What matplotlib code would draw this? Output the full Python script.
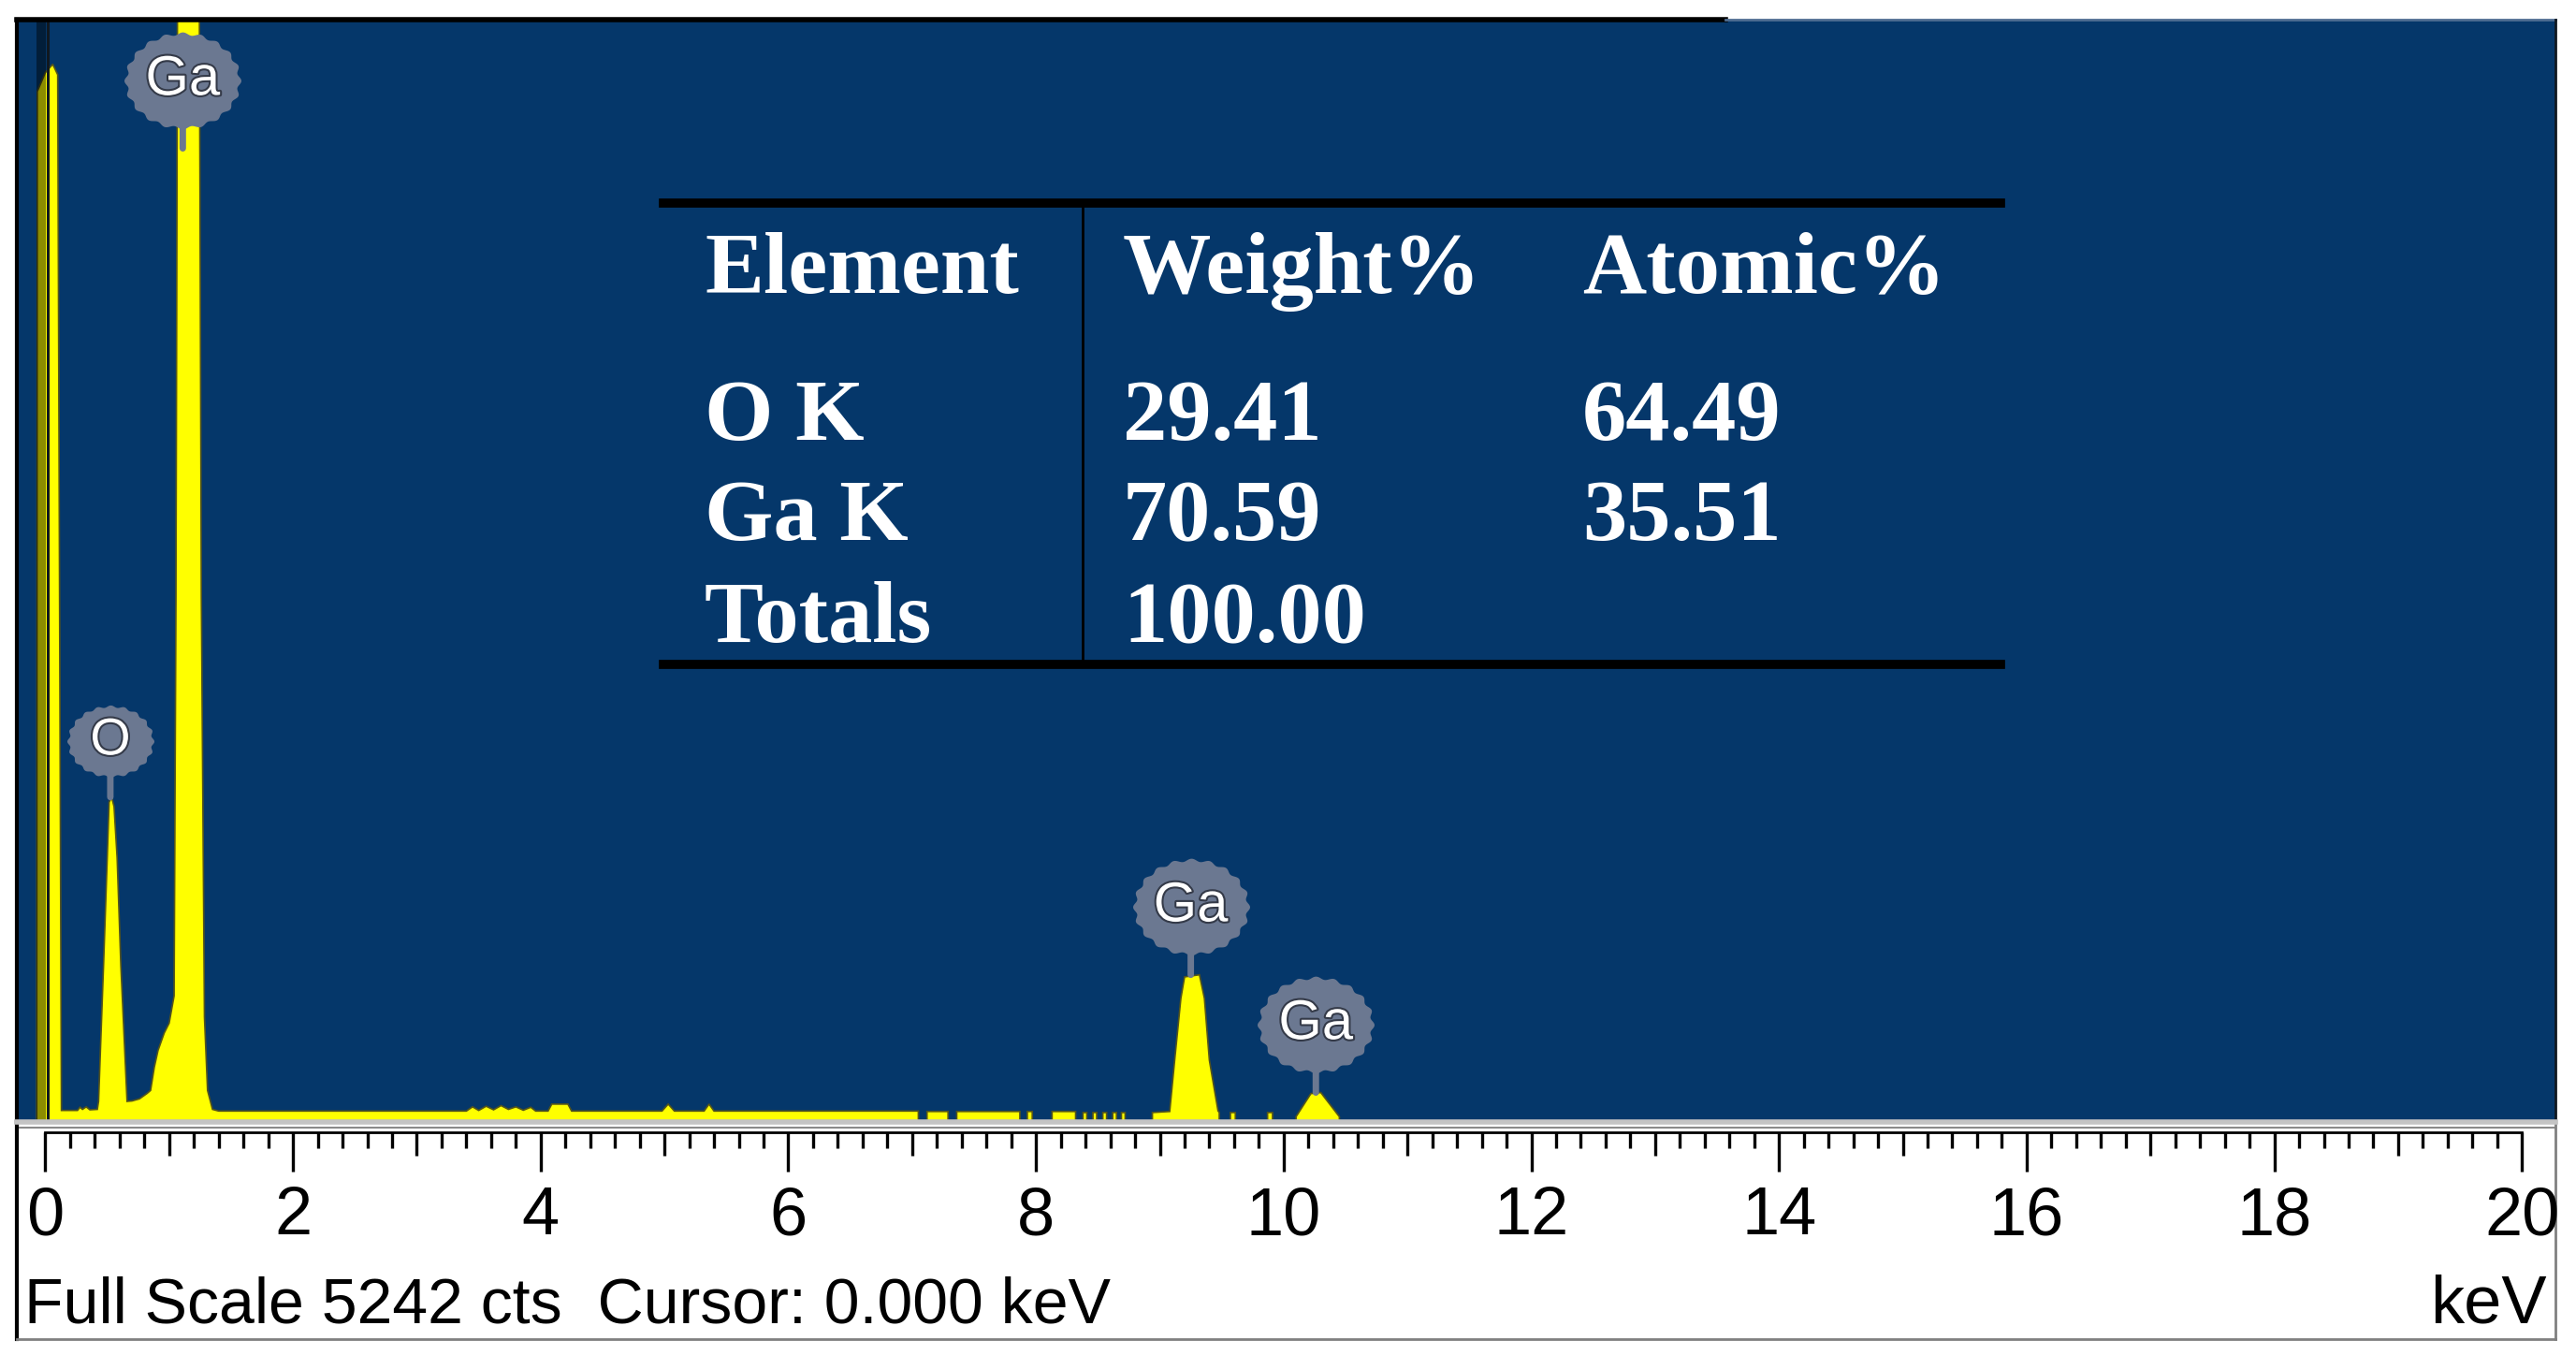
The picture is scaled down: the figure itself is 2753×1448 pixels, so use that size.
#### EDS spectrum of Ga2O3 - recreated screenshot ####

import numpy as np
import matplotlib
matplotlib.use("Agg")
import matplotlib.pyplot as plt
import matplotlib.patheffects as pe
from matplotlib.path import Path

# full scale of the spectrum window
full_scale = 5242  # cts

# spectrum outline (keV, cts)
energy_kev = [-0.23, -0.07, -0.065, 0.0, 0.06, 0.10, 0.115, 0.13, 0.26, 0.28, 0.30, 0.33, 0.36, 0.42,
              0.43, 0.47, 0.50, 0.515, 0.535, 0.555, 0.58, 0.61, 0.66, 0.70, 0.76, 0.82, 0.85, 0.88,
              0.91, 0.96, 1.00, 1.04, 1.055, 1.07, 1.24, 1.26, 1.285, 1.31, 1.35, 1.40,
              3.40, 3.45, 3.50, 3.56, 3.62, 3.68, 3.74, 3.80, 3.86, 3.92, 3.96,
              4.06, 4.09, 4.22, 4.25, 4.98, 5.03, 5.08, 5.32, 5.36, 5.40,
              7.05, 7.05, 7.12, 7.12, 7.29, 7.29, 7.36, 7.36, 7.87, 7.87,
              7.93, 7.93, 7.97, 7.97, 8.13, 8.13, 8.32, 8.32,
              8.38, 8.38, 8.41, 8.41, 8.46, 8.46, 8.49, 8.49, 8.54, 8.54, 8.57, 8.57,
              8.62, 8.62, 8.65, 8.65, 8.69, 8.69, 8.72, 8.72,
              8.94, 8.94, 9.08, 9.12, 9.17, 9.20, 9.32, 9.36, 9.40, 9.47, 9.48, 9.48,
              9.57, 9.57, 9.61, 9.61, 9.87, 9.87, 9.91, 9.91,
              10.10, 10.10, 10.22, 10.30, 10.45, 10.45, 20.3]
counts = [0, 0, 4900, 4990, 5030, 4980, 2500, 55, 55, 70, 60, 72, 58, 60,
          98, 743, 1255, 1520, 1545, 1500, 1255, 743, 98, 100, 110, 135, 150, 260,
          340, 423, 470, 600, 2500, 6000, 6000, 2500, 500, 150, 60, 52,
          52, 72, 55, 75, 58, 78, 60, 72, 56, 70, 52,
          52, 85, 85, 52, 52, 85, 52, 52, 85, 52,
          52, 0, 0, 50, 50, 0, 0, 50, 50, 0,
          0, 50, 50, 0, 0, 50, 50, 0,
          0, 45, 45, 0, 0, 45, 45, 0, 0, 45, 45, 0,
          0, 45, 45, 0, 0, 45, 45, 0,
          0, 45, 50, 294, 588, 690, 700, 588, 294, 53, 45, 0,
          0, 45, 45, 0, 0, 45, 45, 0,
          0, 25, 135, 140, 25, 0, 0]

# peak labels: element, keV, cts at the tip of the stem
label_names = ["Ga", "O", "Ga", "Ga"]
label_kev = [1.11, 0.525, 9.25, 10.26]
label_cts = [4630, 1545, 700, 140]

cursor_kev = 0.02

# quantification table
table_header = ["Element", "Weight%", "Atomic%"]
table_elements = ["O K", "Ga K", "Totals"]
table_weight = ["29.41", "70.59", "100.00"]
table_atomic = ["64.49", "35.51", ""]

major_ticks = np.arange(0, 21, 2)
mid_ticks = np.arange(1, 20, 2)
minor_ticks = [t for t in np.round(np.arange(0, 20.01, 0.2), 1) if abs(t - round(t)) > 1e-6]

# colours
blue_bg = "#05376a"
yellow = "#ffff00"
bubble_col = "#6b7891"

sans_narrow = ["Liberation Sans Narrow", "Liberation Sans", "DejaVu Sans"]
sans = ["Liberation Sans", "DejaVu Sans"]
serif = ["Liberation Serif", "DejaVu Serif"]

W, H = 2753, 1448
fig = plt.figure(figsize=(W / 100, H / 100), dpi=100)
fig.patch.set_facecolor("white")

# spectrum window
ax = fig.add_axes([18 / W, 1 - 1199 / H, 2713 / W, 1178 / H])
ax.set_facecolor(blue_bg)
ax.set_xlim(-0.23, 20.27)
ax.set_ylim(0, full_scale)
ax.set_xticks([])
ax.set_yticks([])
for side in ["top", "right"]:
    ax.spines[side].set_visible(False)
ax.spines["left"].set_color("black")
ax.spines["left"].set_linewidth(3)
ax.spines["bottom"].set_color("black")
ax.spines["bottom"].set_linewidth(3)

ax.fill(energy_kev, counts, facecolor=yellow, edgecolor="#55551a", lw=1.2, zorder=2)

# cursor
ax.axvspan(-0.07, 0.008, color="black", alpha=0.45, lw=0, zorder=3)
ax.axvline(cursor_kev, color="#111820", lw=2.2, zorder=3)

# window border: dark on the left part of the top, lighter on the right
ax.plot([0, 0.673], [1, 1], transform=ax.transAxes, color="black", lw=4, clip_on=False, zorder=5)
ax.plot([0.673, 1], [1, 1], transform=ax.transAxes, color="#4f6d92", lw=2, clip_on=False, zorder=5)
ax.plot([1, 1], [0, 1], transform=ax.transAxes, color="#101820", lw=2, clip_on=False, zorder=5)

# peak label bubbles
theta = np.linspace(0, 2 * np.pi, 361)
r = 1 + 0.03 * np.cos(20 * theta)
bubble = Path(np.column_stack([r * np.cos(theta), 0.83 * r * np.sin(theta)]), closed=True)

for name, xk, yc in zip(label_names, label_kev, label_cts):
    big = name != "O"
    width_pt = 90 if big else 67
    off = width_pt * 0.83 / 2 + 15
    ax.annotate("", xy=(xk, yc), xytext=(0, off), textcoords="offset points",
                arrowprops=dict(arrowstyle="-", color=bubble_col, lw=5, shrinkA=0, shrinkB=0),
                zorder=6)
    ax.annotate(" ", xy=(xk, yc), xytext=(0, off), textcoords="offset points", zorder=6)
    ax.scatter([xk], [yc], s=width_pt ** 2, marker=bubble, color=bubble_col, lw=0, zorder=7,
               transform=matplotlib.transforms.offset_copy(ax.transData, fig=fig, x=0, y=off,
                                                           units="points"))
    ax.annotate(name, xy=(xk, yc), xytext=(0, off), textcoords="offset points",
                ha="center", va="center", fontsize=43 if big else 40, family=sans,
                color="white", zorder=8,
                path_effects=[pe.withStroke(linewidth=3, foreground="#343a48")])

# quantification table
tx = ax.transAxes
ax.plot([0.2547, 0.7814], [0.8336, 0.8336], transform=tx, color="black", lw=7, zorder=4)
ax.plot([0.2547, 0.7814], [0.4151, 0.4151], transform=tx, color="black", lw=7, zorder=4)
ax.plot([0.4198, 0.4198], [0.8294, 0.4194], transform=tx, color="black", lw=2, zorder=4)

col_x = [0.2709, 0.4357, 0.6167]
row_y = [0.6188, 0.5280, 0.4355]
for cx, head in zip(col_x, table_header):
    ax.text(cx, 0.7521, head, transform=tx, fontsize=68, family=serif, weight="bold",
            color="white", va="baseline", ha="left", zorder=5)
for ry, el, wt, at in zip(row_y, table_elements, table_weight, table_atomic):
    for cx, s in zip(col_x, [el, wt, at]):
        ax.text(cx, ry, s, transform=tx, fontsize=68, family=serif, weight="bold",
                color="white", va="baseline", ha="left", zorder=5)

# energy scale below the window
ax2 = fig.add_axes([18 / W, 1 - 1431 / H, 2713 / W, 232 / H])
ax2.set_facecolor("white")
ax2.set_xlim(-0.23, 20.27)
ax2.set_ylim(0, 1)
ax2.set_xticks([])
ax2.set_yticks([])
ax2.spines["left"].set_color("black")
ax2.spines["left"].set_linewidth(3)
ax2.spines["top"].set_color("#c4c4c4")
ax2.spines["top"].set_linewidth(4)
for side in ["bottom", "right"]:
    ax2.spines[side].set_color("#808080")
    ax2.spines[side].set_linewidth(2)
ax2.plot([-0.23, 20.27], [0.972, 0.972], color="#8a8a8a", lw=1.5, clip_on=False)

ax2.plot([0, 20], [0.953, 0.953], color="black", lw=2)
ax2.vlines(major_ticks, 0.772, 0.953, color="black", lw=2.4)
ax2.vlines(mid_ticks, 0.845, 0.953, color="black", lw=2.4)
ax2.vlines(minor_ticks, 0.879, 0.953, color="black", lw=2.4)

for t in major_ticks:
    ax2.text(t, 0.482, f"{t:d}", ha="center", va="baseline", fontsize=52, family=sans_narrow)

ax2.text(0.003, 0.075, "Full Scale 5242 cts  Cursor: 0.000 keV", transform=ax2.transAxes,
         ha="left", va="baseline", fontsize=49, family=sans)
ax2.text(0.9967, 0.075, "keV", transform=ax2.transAxes, ha="right", va="baseline",
         fontsize=52, family=sans_narrow)

fig.savefig("out.png", dpi=100, facecolor="white")
